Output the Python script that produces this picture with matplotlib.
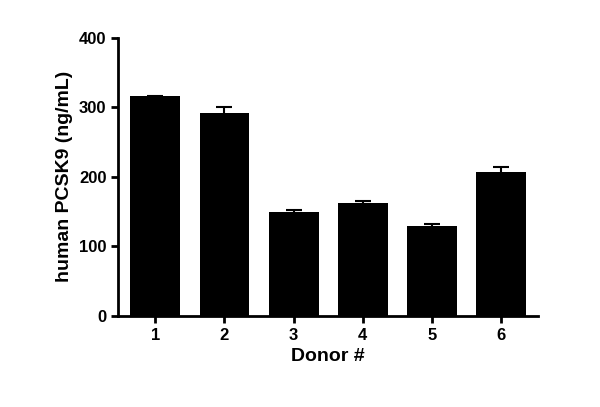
import matplotlib
matplotlib.use("Agg")
import matplotlib.pyplot as plt

donors = ["1", "2", "3", "4", "5", "6"]
values = [316, 292, 150, 163, 129, 207]
errors = [1, 8, 2, 2, 3, 7]

plt.rcParams['font.family'] = ['Liberation Sans', 'DejaVu Sans']
fig = plt.figure(figsize=(6, 4.07), dpi=100)
ax = fig.add_axes([0.197, 0.224, 0.7, 0.683])
x = list(range(1, 7))
ax.bar(x, values, width=0.72, color="black", yerr=errors,
       error_kw=dict(ecolor="black", elinewidth=1.5, capsize=6, capthick=1.5))
ax.set_xlim(0.465, 6.535)
ax.set_ylim(0, 400)
ax.set_yticks([0, 100, 200, 300, 400])
ax.set_xticks(x)
ax.set_xticklabels(donors)
for s in ["top", "right"]:
    ax.spines[s].set_visible(False)
for s in ["left", "bottom"]:
    ax.spines[s].set_linewidth(2)
ax.tick_params(width=2, length=5, labelsize=12)
for lab in ax.get_xticklabels() + ax.get_yticklabels():
    lab.set_fontweight("bold")
ax.set_xlabel("Donor #", fontsize=14, fontweight="bold")
ax.set_ylabel("human PCSK9 (ng/mL)", fontsize=14, fontweight="bold")
fig.savefig("out.png", dpi=100)
